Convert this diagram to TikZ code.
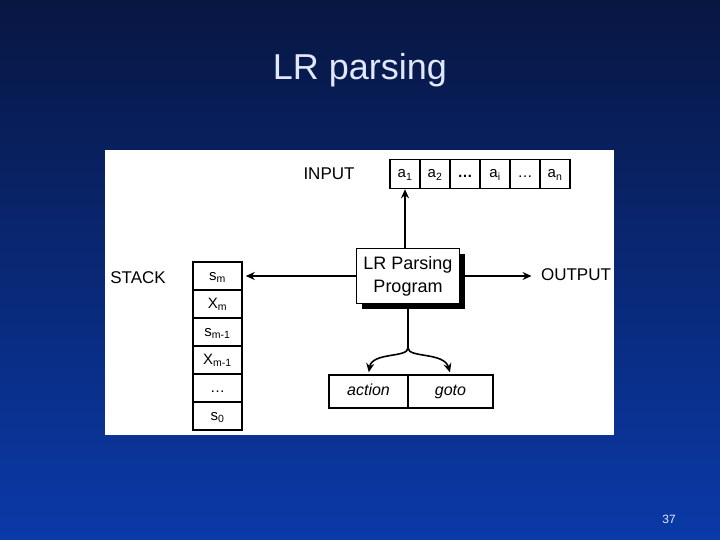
\documentclass[tikz,border=0pt]{standalone}
\usepackage{fontspec}
\setmainfont{Liberation Sans}
\usetikzlibrary{shadows, arrows.meta}

\definecolor{bgtop}{RGB}{8,22,66}
\definecolor{bgbot}{RGB}{10,58,168}
\definecolor{titlecol}{RGB}{225,232,250}

\begin{document}
\begin{tikzpicture}[x=1pt, y=-1pt, >={Stealth[length=9pt, width=8pt]},
    flow/.style={line width=1.6pt},
    cell/.style={draw, line width=1.5pt, minimum width=30pt, minimum height=29pt, inner sep=0pt, text height=11pt, text depth=3pt, font=\fontsize{15}{17}\selectfont},
    stackcell/.style={draw, line width=1.5pt, minimum width=49pt, minimum height=28pt, inner sep=0pt, text height=11pt, text depth=3pt, font=\fontsize{15}{17}\selectfont},
    tab/.style={draw, line width=1.5pt, minimum height=33pt, inner sep=0pt, text height=12pt, text depth=4pt, font=\fontsize{16}{18}\selectfont\itshape},
    lbl/.style={font=\fontsize{17}{20}\selectfont},
    prog/.style={draw, thin, fill=white, minimum width=103pt, minimum height=55pt, align=center,
        font=\fontsize{18}{23}\selectfont,
        drop shadow={shadow xshift=5pt, shadow yshift=-5pt, fill=black, opacity=1}}]
    \useasboundingbox (0,0) rectangle (720,540);
    % Slide
    \shade[top color=bgtop, bottom color=bgbot] (0,0) rectangle (720,540);
    \node[text=titlecol, font=\fontsize{36}{40}\selectfont] (title) at (360,70) {LR parsing};
    \node[text=titlecol, font=\fontsize{12}{14}\selectfont] (page) at (669,519) {37};
    \fill[white] (105,150) rectangle (614,435);
    % Input
    \node[lbl] (input) at (329,174) {INPUT};
    \foreach \sym [count=\i] in {a\textsubscript{1}, a\textsubscript{2}, \textbf{\ldots}, a\textsubscript{i}, \ldots, a\textsubscript{n}}
        \node[cell] (in\i) at ({375+30*\i},174) {\sym};
    % Stack
    \node[lbl] (stack) at (138,278) {STACK};
    \foreach \sym [count=\i] in {s\textsubscript{m}, X\textsubscript{m}, s\textsubscript{m-1}, X\textsubscript{m-1}, \ldots, s\textsubscript{0}}
        \node[stackcell] (st\i) at (217.5,{248+28*\i}) {\sym};
    % Program
    \node[prog] (prog) at (408,276) {LR Parsing\\Program};
    \node[lbl] (out) at (576,275) {OUTPUT};
    % Table
    \node[tab, minimum width=79pt] (act) at (368.5,391.5) {action};
    \node[tab, minimum width=85pt] (gt) at (450.5,391.5) {goto};
    % Flows
    \draw[flow, ->] (prog.north -| in1) -- (in1.south);
    \draw[flow, ->, shorten >=3pt] (prog.west) -- (st1.east);
    \draw[flow, ->, shorten >=6pt] ([xshift=5pt]prog.east) -- (out.west |- prog.east);
    \coordinate (split) at (408,348);
    \draw[flow] ([yshift=-5pt]prog.south) -- (split);
    \draw[flow, ->, shorten >=2pt] (split) .. controls (408,358) and (372,352) .. (act.north);
    \draw[flow, ->, shorten >=2pt] (split) .. controls (408,358) and (444,352) .. (gt.north);
\end{tikzpicture}
\end{document}
